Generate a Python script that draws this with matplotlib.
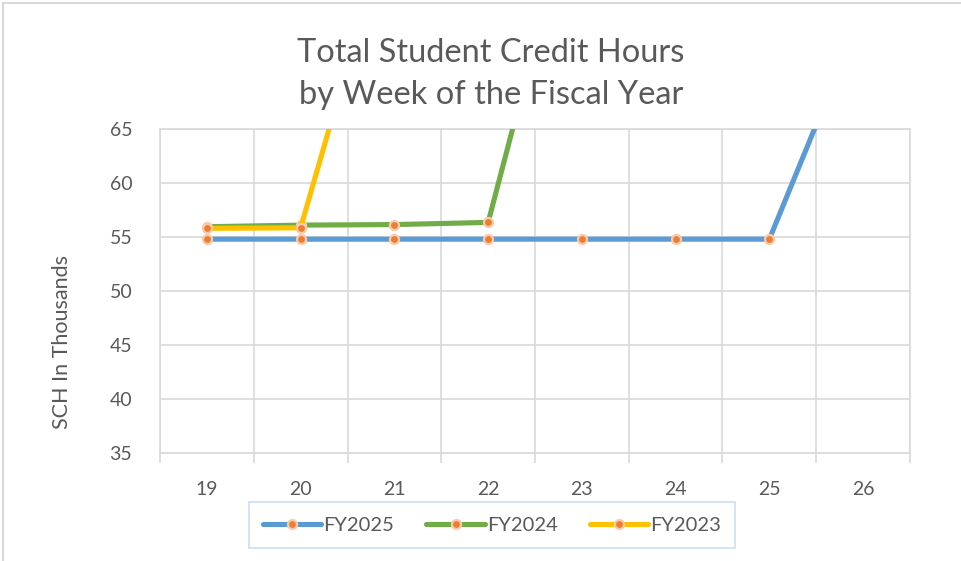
# -*- coding: utf-8 -*-

"""
Total student credit hours by week of the fiscal year.
"""

import matplotlib.pyplot as plt
from matplotlib.lines import Line2D


weeks = ["19", "20", "21", "22", "23", "24", "25", "26"]

fy2025 = [54.8, 54.8, 54.8, 54.8, 54.8, 54.8, 54.8, 76.0]
fy2024 = [55.95, 56.1, 56.15, 56.35, 89.5]
fy2023 = [55.8, 55.85, 86.0]

series_names = ["FY2025", "FY2024", "FY2023"]
series_values = [fy2025, fy2024, fy2023]
series_colors = ["#5B9BD5", "#70AD47", "#FFC000"]

y_ticks = [35, 40, 45, 50, 55, 60, 65]

TEXT_COLOR = "#595959"
GRID_COLOR = "#D9D9D9"
MARKER_COLOR = "#ED7D31"
MARKER_HALO = "#F8CBAD"

plt.rcParams["font.family"] = ["Lato", "DejaVu Sans"]

fig = plt.figure(figsize=(9.62, 5.61), dpi=100)
ax = fig.add_axes([160 / 962, 1 - 453 / 561, 750 / 962, 324 / 561])

positions = list(range(len(weeks)))

for name, values, color in zip(
    series_names,
    series_values,
    series_colors,
):
    ax.plot(
        positions[: len(values)],
        values,
        color=color,
        linewidth=3.7,
        solid_capstyle="round",
        marker="o",
        markersize=6.5,
        markerfacecolor=MARKER_COLOR,
        markeredgecolor=MARKER_HALO,
        markeredgewidth=1.6,
        label=name,
        zorder=3,
    )

ax.set_xlim(-0.5, len(weeks) - 0.5)
ax.set_ylim(35, 65)

ax.set_xticks(positions)
ax.set_xticklabels(weeks)
ax.set_xticks([p - 0.5 for p in range(len(weeks) + 1)], minor=True)
ax.set_yticks(y_ticks)

ax.tick_params(
    axis="x",
    which="major",
    length=0,
    pad=20,
    labelsize=14,
    labelcolor=TEXT_COLOR,
)
ax.tick_params(
    axis="x",
    which="minor",
    length=7,
    width=1.2,
    color=GRID_COLOR,
)
ax.tick_params(
    axis="y",
    length=0,
    pad=20,
    labelsize=14,
    labelcolor=TEXT_COLOR,
)

ax.grid(axis="y", color=GRID_COLOR, linewidth=1.2)
ax.grid(axis="x", which="minor", color=GRID_COLOR, linewidth=1.2)
ax.set_axisbelow(True)

for side in ["top", "right", "left", "bottom"]:
    ax.spines[side].set_color(GRID_COLOR)
    ax.spines[side].set_linewidth(1.2)

fig.text(
    62 / 962,
    1 - 342 / 561,
    "SCH In Thousands",
    rotation=90,
    ha="center",
    va="center",
    fontsize=15.5,
    color=TEXT_COLOR,
)

fig.text(
    491 / 962,
    1 - 74 / 561,
    "Total Student Credit Hours\nby Week of the Fiscal Year",
    ha="center",
    va="center",
    fontsize=23.5,
    color=TEXT_COLOR,
    linespacing=1.5,
)

handles = [
    Line2D(
        [0],
        [0],
        color=color,
        linewidth=3.7,
        solid_capstyle="round",
        marker="o",
        markersize=6.5,
        markerfacecolor=MARKER_COLOR,
        markeredgecolor=MARKER_HALO,
        markeredgewidth=1.6,
    )
    for color in series_colors
]

legend = fig.legend(
    handles,
    series_names,
    loc="center",
    bbox_to_anchor=(492 / 962, 1 - 525 / 561),
    ncol=3,
    frameon=True,
    fancybox=False,
    fontsize=14.5,
    handlelength=2.9,
    columnspacing=1.6,
    handletextpad=0.1,
    borderpad=0.7,
    borderaxespad=0,
    labelcolor=TEXT_COLOR,
)
legend.get_frame().set_edgecolor("#BDD7EE")
legend.get_frame().set_linewidth(1.2)

# light border of the chart area
fig.add_artist(
    Line2D([3 / 962, 3 / 962], [0, 1 - 3 / 561], color=GRID_COLOR, linewidth=1.5)
)
fig.add_artist(
    Line2D([3 / 962, 1], [1 - 3 / 561, 1 - 3 / 561], color=GRID_COLOR, linewidth=1.5)
)

plt.savefig("out.png", dpi=100)
plt.close()
